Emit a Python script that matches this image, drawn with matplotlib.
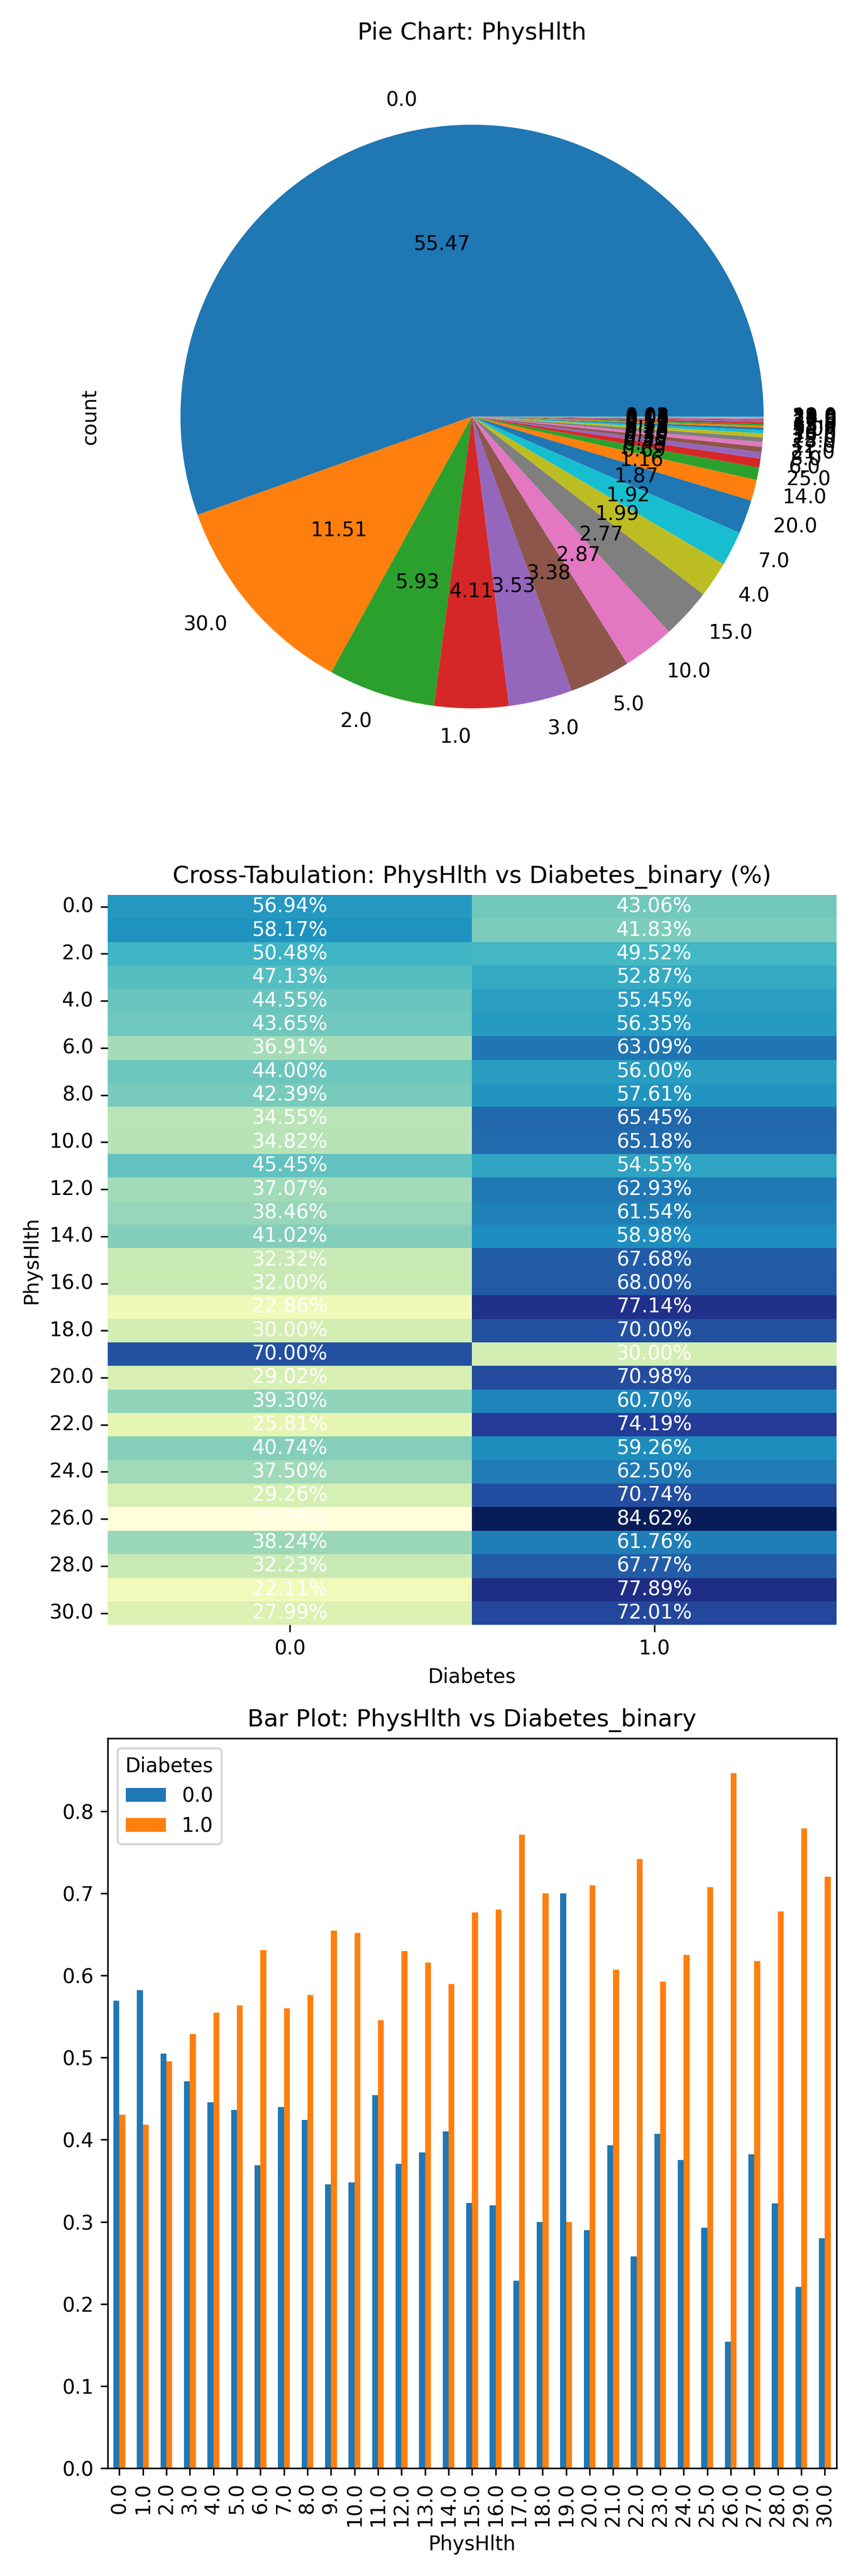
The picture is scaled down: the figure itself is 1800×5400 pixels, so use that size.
import numpy as np
import pandas as pd
import matplotlib.pyplot as plt
import seaborn as sns

# PhysHlth share per category (pie, sorted by count)
pie_labels = ['0.0', '30.0', '2.0', '1.0', '3.0', '5.0', '10.0', '15.0', '4.0', '7.0',
              '20.0', '14.0', '25.0', '6.0', '8.0', '21.0', '12.0', '28.0', '29.0', '16.0',
              '9.0', '18.0', '13.0', '27.0', '17.0', '11.0', '26.0', '22.0', '24.0', '23.0', '19.0']
pie_values = [55.48, 11.51, 5.93, 4.11, 3.53, 3.38, 2.87, 2.77, 1.99, 1.92,
              1.87, 1.16, 0.69, 0.49, 0.35, 0.30, 0.26, 0.26, 0.22, 0.18,
              0.13, 0.11, 0.10, 0.10, 0.08, 0.07, 0.05, 0.03, 0.03, 0.03, 0.01]

# Crosstab PhysHlth vs Diabetes_binary (% of row with Diabetes = 0)
physhlth = [float(i) for i in range(31)]
no_diab = [56.94, 58.17, 50.48, 47.13, 44.55, 43.65, 36.91, 44.00, 42.39, 34.55,
           34.82, 45.45, 37.07, 38.46, 41.02, 32.32, 32.00, 22.86, 30.00, 70.00,
           29.02, 39.30, 25.81, 40.74, 37.50, 29.26, 15.38, 38.24, 32.23, 22.11, 27.99]
diab = [round(100 - v, 2) for v in no_diab]

ct = pd.DataFrame({0.0: no_diab, 1.0: diab}, index=physhlth)
ct.index.name = 'PhysHlth'
ct.columns.name = 'Diabetes'

fig, axes = plt.subplots(3, 1, figsize=(6, 18), dpi=300)

# Pie chart
s = pd.Series(pie_values, index=pie_labels, name='count')
s.plot.pie(ax=axes[0], autopct='%.2f')
axes[0].set_title('Pie Chart: PhysHlth')

# Heatmap
annot = ct.map(lambda v: f'{v:.2f}%')
sns.heatmap(ct, ax=axes[1], cmap='YlGnBu', annot=annot, fmt='', cbar=False,
            annot_kws={'color': 'white'})
axes[1].set_title('Cross-Tabulation: PhysHlth vs Diabetes_binary (%)')
axes[1].set_xlabel('Diabetes')
axes[1].set_ylabel('PhysHlth')

# Bar plot
(ct / 100).plot(kind='bar', ax=axes[2])
axes[2].set_title('Bar Plot: PhysHlth vs Diabetes_binary')
axes[2].legend(title='Diabetes')

plt.tight_layout()
plt.savefig('out.png')
